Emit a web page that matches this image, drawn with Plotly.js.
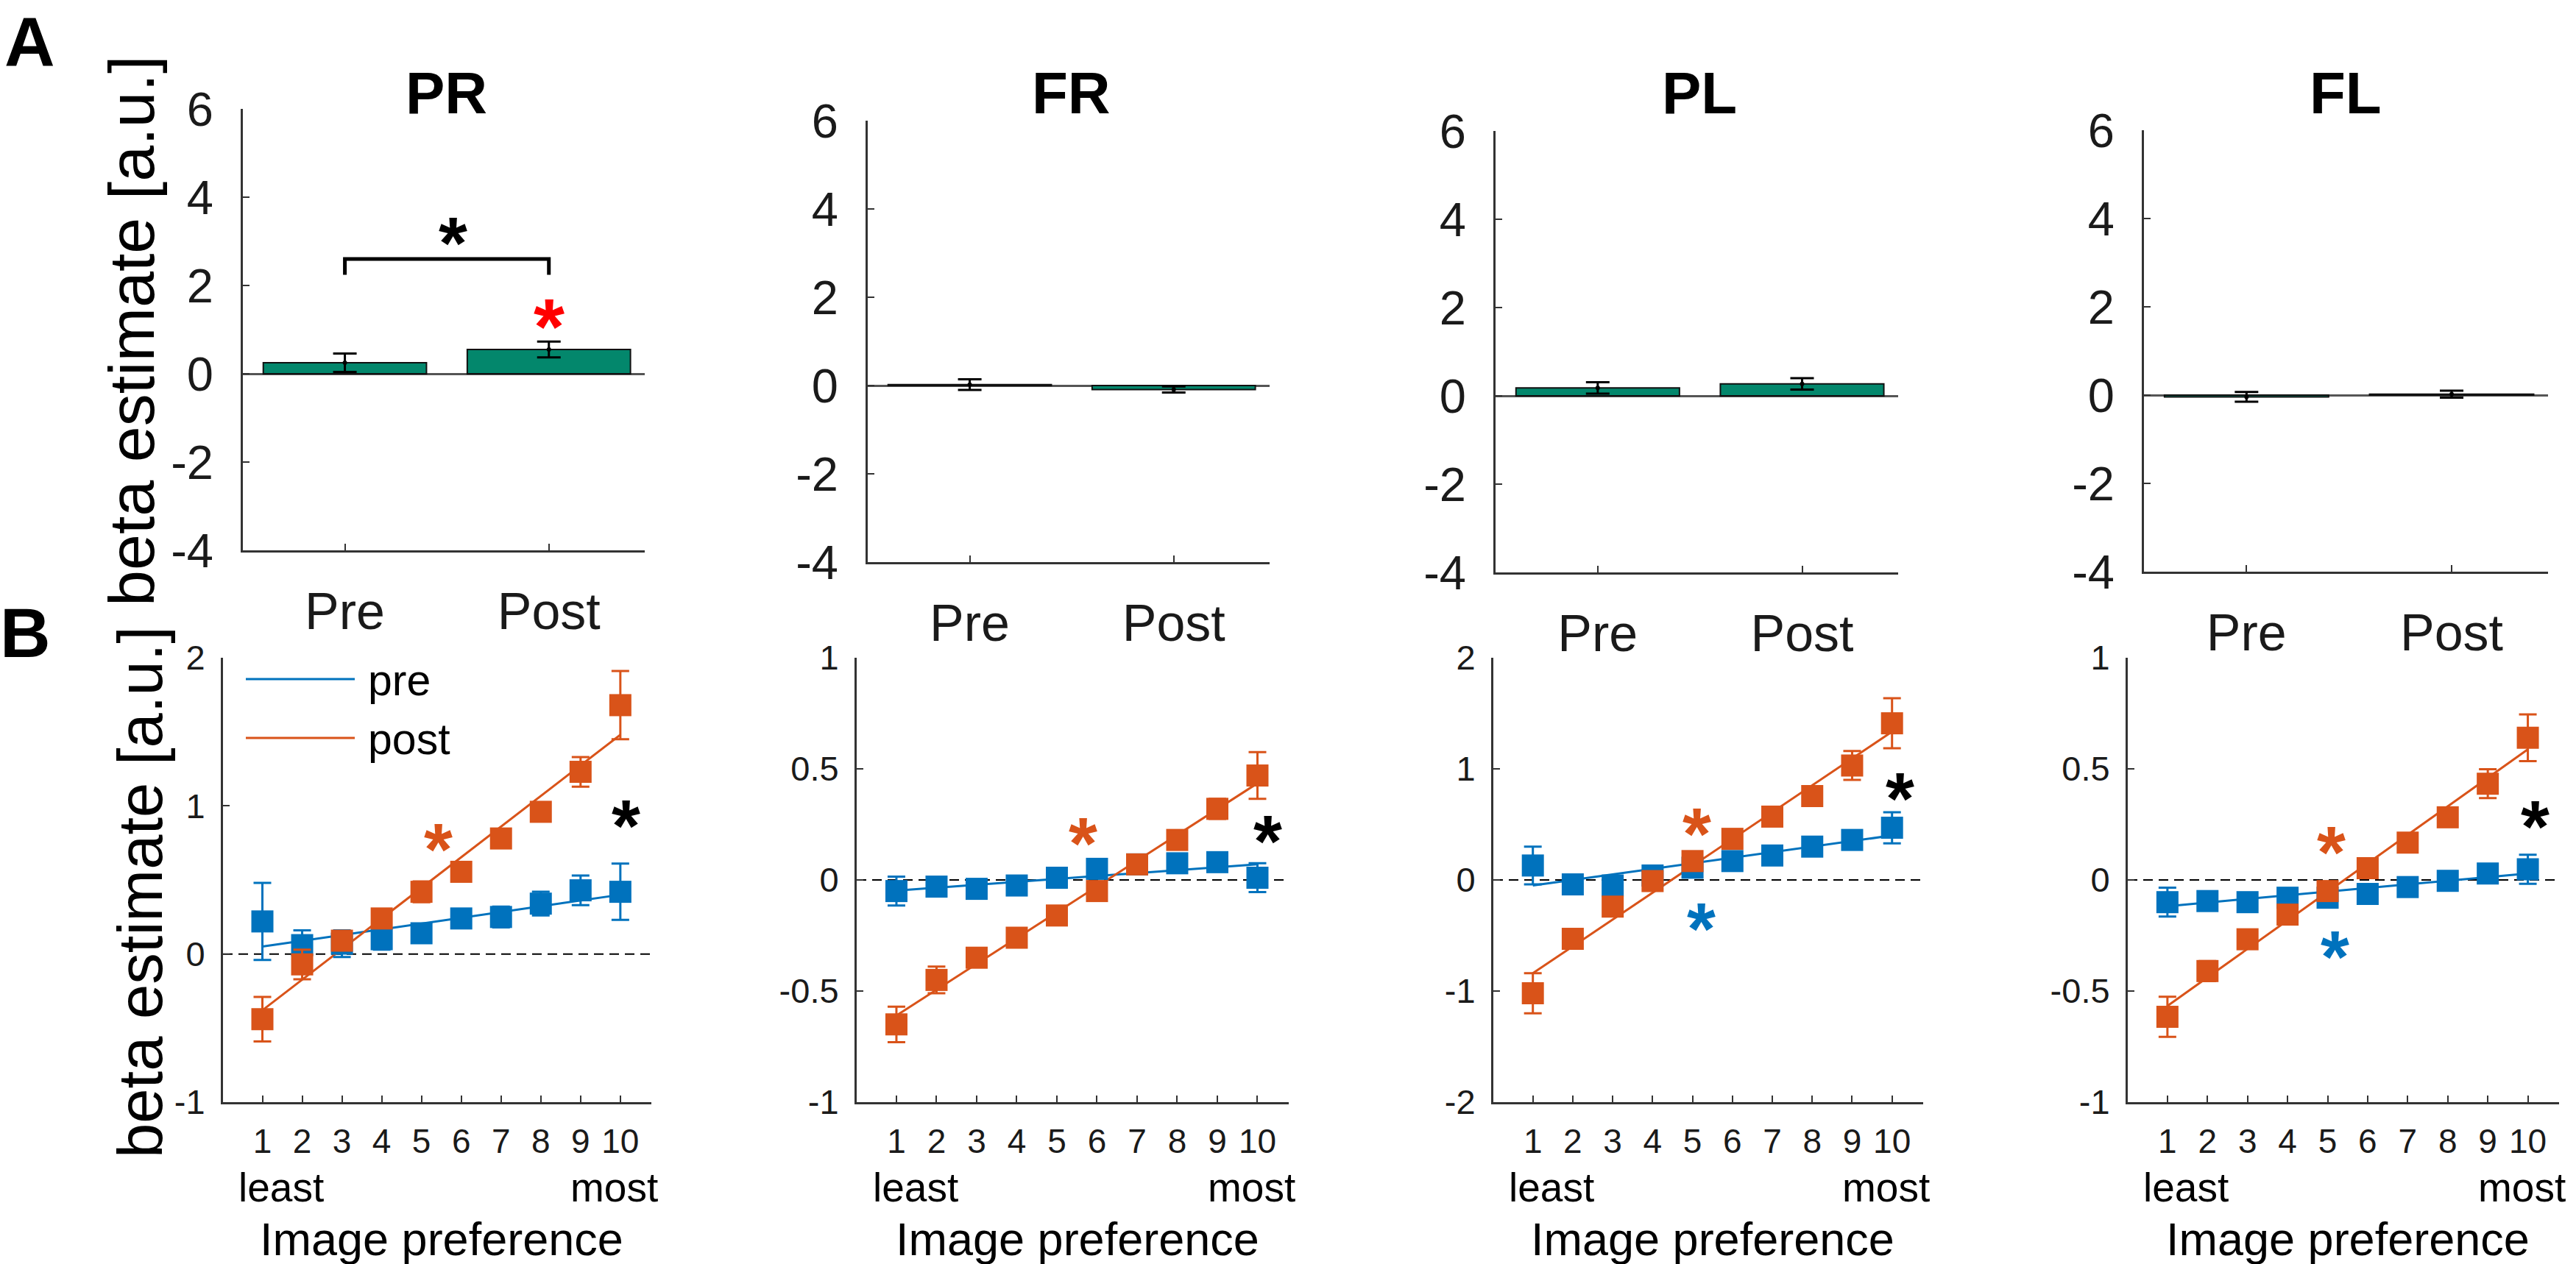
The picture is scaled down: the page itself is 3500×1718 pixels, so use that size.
<!DOCTYPE html>
<html lang="en">
<head>
<meta charset="UTF-8">
<title>Beta estimates pre/post by region</title>
<script src="https://cdn.plot.ly/plotly-3.0.1.min.js"></script>
<style>
  body { margin: 0; background: #fff; }
  #fig { width: 3500px; height: 1718px; }
</style>
</head>
<body>
<div id="fig"></div>
<script>
// ---- data ----
const regions = ['PR', 'FR', 'PL', 'FL'];
const sessions = ['Pre', 'Post'];

// panel A: mean beta and error per region, [Pre, Post]
const barMeans = [[0.25, 0.55], [0.02, -0.09], [0.18, 0.27], [-0.04, 0.02]];
const barErrors = [[0.21, 0.18], [0.12, 0.07], [0.13, 0.13], [0.11, 0.08]];

// panel B: image preference bins 1..10
const prefBins = [1, 2, 3, 4, 5, 6, 7, 8, 9, 10];
const preMeans = [
  [0.22, 0.06, 0.07, 0.10, 0.14, 0.24, 0.25, 0.34, 0.43, 0.42],
  [-0.05, -0.03, -0.04, -0.025, 0.01, 0.05, 0.07, 0.075, 0.08, 0.01],
  [0.13, -0.04, -0.05, 0.04, 0.11, 0.17, 0.22, 0.30, 0.36, 0.47],
  [-0.10, -0.095, -0.10, -0.08, -0.08, -0.063, -0.032, -0.004, 0.029, 0.048]
];
const preErrors = [
  [0.26, 0.10, 0.09, 0.07, 0.06, 0.05, 0.07, 0.08, 0.10, 0.19],
  [0.065, 0.03, 0.03, 0.03, 0.03, 0.03, 0.03, 0.035, 0.035, 0.065],
  [0.17, 0.05, 0.08, 0.05, 0.04, 0.04, 0.04, 0.04, 0.05, 0.14],
  [0.065, 0.03, 0.025, 0.025, 0.025, 0.025, 0.03, 0.025, 0.025, 0.065]
];
const postMeans = [
  [-0.44, -0.07, 0.09, 0.24, 0.42, 0.555, 0.78, 0.96, 1.23, 1.68],
  [-0.65, -0.45, -0.35, -0.26, -0.16, -0.05, 0.07, 0.18, 0.32, 0.47],
  [-1.02, -0.53, -0.24, -0.01, 0.17, 0.37, 0.57, 0.755, 1.03, 1.41],
  [-0.616, -0.41, -0.267, -0.156, -0.05, 0.053, 0.168, 0.282, 0.433, 0.64]
];
const postErrors = [
  [0.15, 0.10, 0.05, 0.06, 0.07, 0.06, 0.06, 0.05, 0.10, 0.23],
  [0.08, 0.06, 0.035, 0.035, 0.035, 0.035, 0.03, 0.035, 0.045, 0.105],
  [0.18, 0.07, 0.07, 0.07, 0.06, 0.04, 0.05, 0.07, 0.13, 0.225],
  [0.09, 0.045, 0.04, 0.04, 0.03, 0.03, 0.035, 0.035, 0.065, 0.105]
];
// linear fit end points (at bin 1 and bin 10)
const preFits = [[0.05, 0.40], [-0.048, 0.07], [-0.05, 0.40], [-0.118, 0.029]];
const postFits = [[-0.38, 1.48], [-0.61, 0.435], [-0.84, 1.335], [-0.567, 0.588]];
const fitBins = [1, 10];

// y axis ranges / ticks for panel B
const bRanges = [[-1, 2], [-1, 1], [-2, 2], [-1, 1]];
const bTicks = [[-1, 0, 1, 2], [-1, -0.5, 0, 0.5, 1], [-2, -1, 0, 1, 2], [-1, -0.5, 0, 0.5, 1]];
const aTicks = [-4, -2, 0, 2, 4, 6];

// significance stars: [x, y, colour]
const starsB = [
  [[5.43, 0.82, 'post'], [10.15, 0.975, 'diff']],
  [[5.65, 0.24, 'post'], [10.26, 0.25, 'diff']],
  [[5.11, 0.565, 'post'], [5.22, -0.29, 'pre'], [10.2, 0.88, 'diff']],
  [[5.10, 0.20, 'post'], [5.18, -0.27, 'pre'], [10.18, 0.315, 'diff']]
];
const bracketTop = 2.6;
const bracketLeg = 2.24;

// ---- styling ----
const W = 3500, H = 1718;
const FONT = 'Arial, "Liberation Sans", Helvetica, sans-serif';
const BLUE = '#0072BD', ORANGE = '#D95319', TEAL = '#03876c', AXIS = '#333333';
const starColor = { pre: BLUE, post: ORANGE, diff: '#000000' };

const px = v => v / W;
const py = v => 1 - v / H;

// panel boxes in pixels [left, right, top, bottom]
const boxA = [[330, 876, 148, 748], [1179, 1725, 164, 764], [2032, 2579, 178, 778], [2913, 3462, 177, 777]];
const boxB = [[303, 885, 894, 1498], [1164, 1751, 894, 1498], [2029, 2613, 894, 1498], [2891, 3477, 894, 1498]];

const data = [];
const layout = {
  width: W, height: H,
  margin: { l: 0, r: 0, t: 0, b: 0 },
  paper_bgcolor: '#fff', plot_bgcolor: 'rgba(0,0,0,0)',
  showlegend: false,
  font: { family: FONT, color: '#1a1a1a' },
  annotations: [], shapes: []
};

function baseAxis(extra) {
  return Object.assign({
    showgrid: false, showline: true, linecolor: AXIS, linewidth: 3,
    ticks: 'inside', ticklen: 9, tickwidth: 2, tickcolor: AXIS,
    zeroline: false, fixedrange: true
  }, extra);
}

// ---- panel A ----
regions.forEach((reg, i) => {
  const n = i + 1;
  const xs = n === 1 ? '' : String(n);
  const b = boxA[i];
  layout['xaxis' + xs] = baseAxis({
    domain: [px(b[0]), px(b[1])], anchor: 'y' + xs,
    range: [0.5, 2.47], tickvals: [1, 2], ticktext: sessions,
    tickfont: { size: 70, family: FONT, color: '#1a1a1a' }, ticklabelstandoff: 20
  });
  layout['yaxis' + xs] = baseAxis({
    domain: [py(b[3]), py(b[2])], anchor: 'x' + xs,
    range: [-4, 6], tickvals: aTicks, ticktext: aTicks.map(String),
    tickfont: { size: 65, family: FONT, color: '#1a1a1a' }, ticklabelstandoff: 24,
    zeroline: true, zerolinecolor: '#555555', zerolinewidth: 3
  });
  data.push({
    type: 'bar', x: [1, 2], y: barMeans[i], width: 0.8,
    xaxis: 'x' + xs, yaxis: 'y' + xs,
    marker: { color: TEAL, line: { color: '#111', width: 2 } }, hoverinfo: 'skip'
  });
  data.push({
    type: 'scatter', mode: 'markers', x: [1, 2], y: barMeans[i],
    xaxis: 'x' + xs, yaxis: 'y' + xs,
    marker: { color: '#000', size: 6 },
    error_y: { type: 'data', array: barErrors[i], color: '#000', thickness: 3, width: 16 }
  });
  layout.annotations.push({
    text: '<b>' + reg + '</b>', xref: 'paper', yref: 'paper',
    x: px((b[0] + b[1]) / 2 + (i === 3 ? -4 : 0) + 3), y: py(126),
    xanchor: 'center', yanchor: 'middle', showarrow: false,
    font: { size: 80, family: FONT, color: '#000' }
  });
});

// bracket + stars on PR
data.push({
  type: 'scatter', mode: 'lines', x: [1, 1, 2, 2], y: [bracketLeg, bracketTop, bracketTop, bracketLeg],
  xaxis: 'x', yaxis: 'y', line: { color: '#000', width: 5 }, hoverinfo: 'skip'
});
layout.annotations.push(
  { text: '<b>*</b>', xref: 'x', yref: 'y', x: 1.53, y: 3.34, yshift: -22, showarrow: false,
    xanchor: 'center', yanchor: 'middle', font: { size: 100, family: FONT, color: '#000' } },
  { text: '<b>*</b>', xref: 'x', yref: 'y', x: 2.0, y: 1.47, yshift: -24, showarrow: false,
    xanchor: 'center', yanchor: 'middle', font: { size: 108, family: FONT, color: '#ff0000' } }
);

// ---- panel B ----
regions.forEach((reg, i) => {
  const n = i + 5;
  const xs = String(n);
  const b = boxB[i];
  layout['xaxis' + xs] = baseAxis({
    domain: [px(b[0]), px(b[1])], anchor: 'y' + xs,
    range: [0.01, 10.78], tickvals: prefBins, ticktext: prefBins.map(String),
    tickfont: { size: 46, family: FONT, color: '#1a1a1a' }, ticklabelstandoff: 11
  });
  layout['yaxis' + xs] = baseAxis({
    domain: [py(b[3]), py(b[2])], anchor: 'x' + xs,
    range: bRanges[i], tickvals: bTicks[i], ticktext: bTicks[i].map(String),
    tickfont: { size: 47, family: FONT, color: '#1a1a1a' }, ticklabelstandoff: 12
  });
  layout.shapes.push({
    type: 'line', xref: 'x' + xs + ' domain', yref: 'y' + xs, x0: 0, x1: 1, y0: 0, y1: 0,
    layer: 'below', line: { color: '#000', width: 2, dash: '13px,8px' }
  });
  data.push(
    { type: 'scatter', mode: 'lines', x: fitBins, y: preFits[i], xaxis: 'x' + xs, yaxis: 'y' + xs,
      line: { color: BLUE, width: 3 }, name: 'pre' },
    { type: 'scatter', mode: 'lines', x: fitBins, y: postFits[i], xaxis: 'x' + xs, yaxis: 'y' + xs,
      line: { color: ORANGE, width: 3 }, name: 'post' },
    { type: 'scatter', mode: 'markers', x: prefBins, y: preMeans[i], xaxis: 'x' + xs, yaxis: 'y' + xs,
      marker: { symbol: 'square', size: 30, color: BLUE },
      error_y: { type: 'data', array: preErrors[i], color: BLUE, thickness: 3, width: 12 } },
    { type: 'scatter', mode: 'markers', x: prefBins, y: postMeans[i], xaxis: 'x' + xs, yaxis: 'y' + xs,
      marker: { symbol: 'square', size: 30, color: ORANGE },
      error_y: { type: 'data', array: postErrors[i], color: ORANGE, thickness: 3, width: 12 } }
  );
  starsB[i].forEach(s => layout.annotations.push({
    text: '<b>*</b>', xref: 'x' + xs, yref: 'y' + xs, x: s[0], y: s[1], yshift: -22,
    showarrow: false, xanchor: 'center', yanchor: 'middle',
    font: { size: 100, family: FONT, color: starColor[s[2]] }
  }));
  layout.annotations.push(
    { text: 'least', xref: 'x' + xs, yref: 'paper', x: 1.47, y: py(1614), showarrow: false,
      xanchor: 'center', yanchor: 'middle', font: { size: 55, family: FONT, color: '#000' } },
    { text: 'most', xref: 'x' + xs, yref: 'paper', x: 9.85, y: py(1614), showarrow: false,
      xanchor: 'center', yanchor: 'middle', font: { size: 55, family: FONT, color: '#000' } },
    { text: 'Image preference', xref: 'paper', yref: 'paper', x: px((b[0] + b[1]) / 2 + 6), y: py(1684),
      showarrow: false, xanchor: 'center', yanchor: 'middle', font: { size: 63, family: FONT, color: '#000' } }
  );
});

// y titles and panel letters
layout.annotations.push(
  { text: 'beta estimate [a.u.]', xref: 'paper', yref: 'paper', x: px(178), y: py(450), textangle: -90,
    showarrow: false, xanchor: 'center', yanchor: 'middle', font: { size: 88, family: FONT, color: '#000' } },
  { text: 'beta estimate [a.u.]', xref: 'paper', yref: 'paper', x: px(190), y: py(1213), textangle: -90,
    showarrow: false, xanchor: 'center', yanchor: 'middle', font: { size: 85, family: FONT, color: '#000' } },
  { text: '<b>A</b>', xref: 'paper', yref: 'paper', x: px(40), y: py(57), showarrow: false,
    xanchor: 'center', yanchor: 'middle', font: { size: 95, family: FONT, color: '#000' } },
  { text: '<b>B</b>', xref: 'paper', yref: 'paper', x: px(34), y: py(860), showarrow: false,
    xanchor: 'center', yanchor: 'middle', font: { size: 95, family: FONT, color: '#000' } }
);

// legend drawn inside PR of panel B
const legendRows = [['pre', BLUE, 923], ['post', ORANGE, 1003]];
legendRows.forEach(r => {
  layout.shapes.push({ type: 'line', xref: 'paper', yref: 'paper', x0: px(334), x1: px(482),
    y0: py(r[2]), y1: py(r[2]), line: { color: r[1], width: 3 } });
  layout.annotations.push({ text: r[0], xref: 'paper', yref: 'paper', x: px(498), y: py(r[2] + 2),
    xanchor: 'left', yanchor: 'middle', showarrow: false, font: { size: 59, family: FONT, color: '#000' } });
});

Plotly.newPlot('fig', data, layout, { staticPlot: true });
</script>
</body>
</html>
